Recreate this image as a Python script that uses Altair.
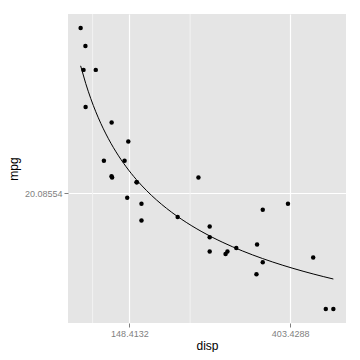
import math
import altair as alt
import pandas as pd

disp = [160, 160, 108, 258, 360, 225, 360, 146.7, 140.8, 167.6, 167.6, 275.8, 275.8,
        275.8, 472, 460, 440, 78.7, 75.7, 71.1, 120.1, 318, 304, 350, 400, 79, 120.3,
        95.1, 351, 145, 301, 121]
mpg = [21.0, 21.0, 22.8, 21.4, 18.7, 18.1, 14.3, 24.4, 22.8, 19.2, 17.8, 16.4, 17.3,
       15.2, 10.4, 10.4, 14.7, 32.4, 30.4, 33.9, 21.5, 15.5, 15.2, 13.3, 19.2, 27.3, 26.0,
       30.4, 15.8, 19.7, 15.0, 21.4]
x_breaks = [math.exp(5), math.exp(6)]
y_breaks = [math.exp(3)]
x_minor = [math.exp(4.5), math.exp(5.5)]

df = pd.DataFrame({"disp": disp, "mpg": mpg})
minor_df = pd.DataFrame({"m": x_minor})

xdom = [51.05, 492.05]
ydom = [9.225, 35.075]

xscale = alt.Scale(domain=xdom, nice=False, zero=False)
yscale = alt.Scale(domain=ydom, nice=False, zero=False)

xaxis = alt.Axis(values=x_breaks, format=".7g", grid=True, gridColor="white", gridWidth=1.2,
                 gridOpacity=1,
                 domain=False, tickColor="#7F7F7F", tickSize=4, labelColor="#7F7F7F",
                 labelFontSize=9, labelPadding=2, title="disp", titleFontSize=12,
                 titleFontWeight="normal", titleColor="black", titlePadding=2)
yaxis = alt.Axis(values=y_breaks, format=".7g", grid=True, gridColor="white", gridWidth=1.2,
                 gridOpacity=1,
                 domain=False, tickColor="#7F7F7F", tickSize=4, labelColor="#7F7F7F",
                 labelFontSize=9, labelPadding=2, title="mpg", titleFontSize=12,
                 titleFontWeight="normal", titleColor="black", titlePadding=4)

minor = alt.Chart(minor_df).mark_rule(color="#F2F2F2", strokeWidth=1).encode(
    x=alt.X("m:Q", scale=xscale, axis=xaxis)
)

points = alt.Chart(df).mark_circle(color="black", opacity=1, size=20).encode(
    x=alt.X("disp:Q", scale=xscale, axis=xaxis),
    y=alt.Y("mpg:Q", scale=yscale, axis=yaxis),
)

fit = alt.Chart(df).transform_regression("disp", "mpg", method="pow").mark_line(
    color="black", strokeWidth=1
).encode(
    x=alt.X("disp:Q", scale=xscale, axis=xaxis),
    y=alt.Y("mpg:Q", scale=yscale, axis=yaxis),
)

chart = alt.layer(minor, points, fit).properties(
    width=278, height=309,
    autosize=alt.AutoSizeParams(type="none"),
    padding={"left": 60, "top": 6, "right": 6, "bottom": 29},
).configure(font="Liberation Sans").configure_view(fill="#E5E5E5", stroke=None)

chart.save("out.html", embed_options={"renderer": "svg", "actions": False})
